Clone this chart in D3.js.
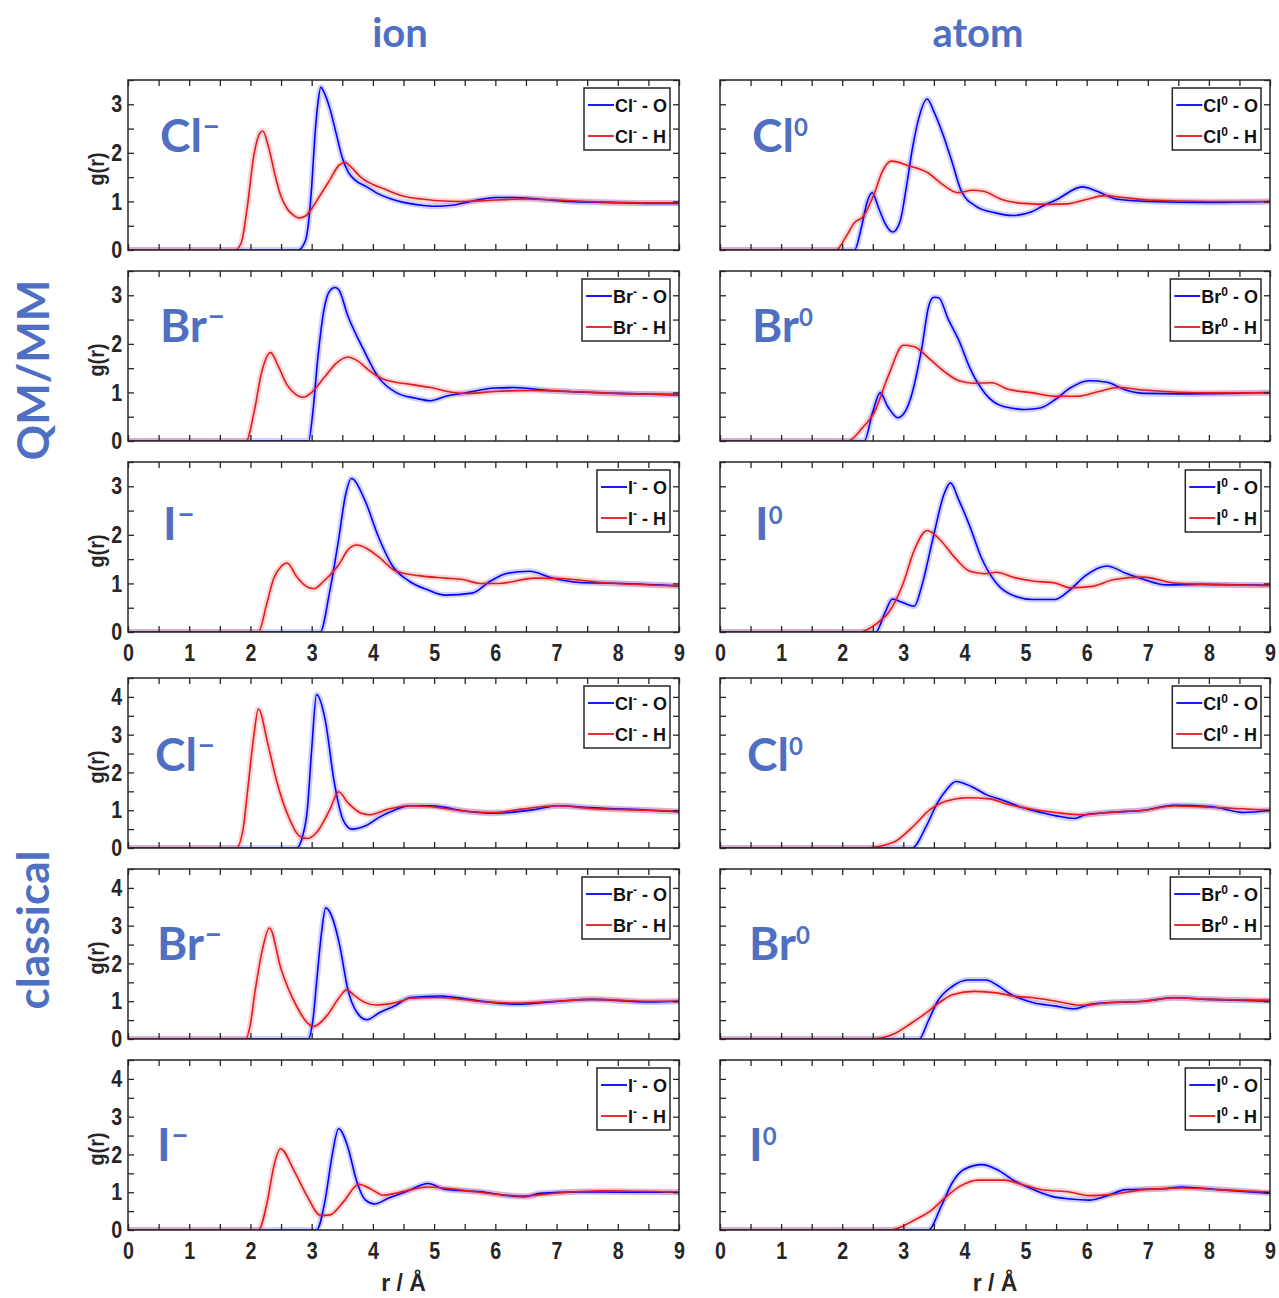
<!DOCTYPE html>
<html>
<head>
<meta charset="utf-8">
<script src="https://cdn.jsdelivr.net/npm/d3@7"></script>
<style>
  body { margin: 0; background: #fff; }
  .tick text { font-family: "Liberation Sans", Arial, sans-serif; font-weight: bold; fill: #262626; }
</style>
</head>
<body>
<svg id="chart" width="1279" height="1298"></svg>
<script>
// ---- data: g(r) as [r, g] pairs ----
var columns = ["ion", "atom"];
var groups = ["QM/MM", "classical"];
var elements = ["Cl", "Br", "I"];
var xTickLabels = [0, 1, 2, 3, 4, 5, 6, 7, 8, 9];
var yTickLabelsQM = [0, 1, 2, 3];
var yTickLabelsClassical = [0, 1, 2, 3, 4];
var yMaxQM = 3.5, yMaxClassical = 4.5;

// QM/MM, ion
var clIonQM_O = [[0,0],[2.78,0],[2.9,0.2],[3.0,1.3],[3.05,2.3],[3.1,3.0],[3.15,3.35],[3.2,3.25],[3.3,2.9],[3.4,2.4],[3.5,1.9],[3.6,1.6],[3.7,1.45],[3.9,1.3],[4.1,1.15],[4.3,1.05],[4.5,0.98],[4.8,0.92],[5.0,0.9],[5.3,0.92],[5.6,1.0],[6.0,1.08],[6.3,1.08],[6.7,1.05],[7.2,1.0],[7.8,0.98],[8.5,0.96],[9,0.96]];
var clIonQM_H = [[0,0],[1.75,0],[1.85,0.15],[1.95,0.9],[2.05,1.9],[2.15,2.4],[2.2,2.45],[2.3,2.1],[2.4,1.55],[2.5,1.1],[2.6,0.85],[2.7,0.72],[2.8,0.66],[2.9,0.7],[3.0,0.85],[3.1,1.05],[3.2,1.25],[3.3,1.45],[3.45,1.75],[3.55,1.8],[3.65,1.7],[3.8,1.5],[4.0,1.35],[4.2,1.25],[4.4,1.15],[4.6,1.08],[4.8,1.05],[5.0,1.02],[5.5,1.0],[6.0,1.03],[6.5,1.05],[7.0,1.03],[7.5,1.0],[8.0,0.98],[8.5,0.97],[9,0.97]];
var brIonQM_O = [[0,0],[2.95,0],[3.02,0.6],[3.1,1.7],[3.2,2.7],[3.3,3.1],[3.38,3.16],[3.44,3.12],[3.59,2.58],[3.84,1.9],[4.08,1.33],[4.39,0.99],[4.7,0.88],[4.94,0.83],[5.19,0.92],[5.5,0.99],[5.99,1.09],[6.3,1.1],[6.9,1.04],[8,0.98],[9,0.95]];
var brIonQM_H = [[0,0],[1.93,0],[2.06,0.6],[2.18,1.4],[2.33,1.82],[2.45,1.55],[2.6,1.15],[2.75,0.95],[2.86,0.9],[3.0,1.0],[3.2,1.3],[3.4,1.6],[3.59,1.73],[3.75,1.65],[3.96,1.43],[4.2,1.26],[4.64,1.16],[4.94,1.1],[5.31,1.0],[5.56,0.98],[5.99,1.02],[6.6,1.04],[7.2,1.02],[8,0.98],[9,0.96]];
var iIonQM_O = [[0,0],[3.14,0],[3.29,0.8],[3.44,1.9],[3.55,2.8],[3.65,3.16],[3.87,2.71],[4.09,1.96],[4.31,1.38],[4.6,1.04],[4.89,0.87],[5.18,0.76],[5.62,0.8],[5.91,1.04],[6.2,1.21],[6.56,1.25],[6.93,1.11],[7.37,1.02],[8.09,1.0],[9,0.95]];
var iIonQM_H = [[0,0],[2.13,0],[2.27,0.6],[2.38,1.1],[2.5,1.35],[2.6,1.42],[2.75,1.15],[2.9,0.95],[3.03,0.89],[3.2,1.05],[3.44,1.38],[3.6,1.7],[3.73,1.79],[3.9,1.72],[4.09,1.55],[4.38,1.25],[4.75,1.16],[5.18,1.11],[5.47,1.08],[5.76,1.0],[6.06,1.0],[6.64,1.11],[7.07,1.1],[7.73,1.02],[9,0.95]];

// QM/MM, atom
var clAtomQM_O = [[0,0],[2.2,0],[2.32,0.5],[2.41,1.0],[2.49,1.18],[2.6,0.85],[2.7,0.55],[2.83,0.37],[2.95,0.6],[3.05,1.3],[3.15,2.1],[3.25,2.7],[3.39,3.11],[3.5,2.85],[3.64,2.41],[3.8,1.8],[3.95,1.21],[4.19,0.9],[4.49,0.77],[4.79,0.71],[5.09,0.78],[5.27,0.9],[5.51,1.04],[5.93,1.3],[6.17,1.21],[6.48,1.05],[7,1.0],[8,0.98],[9,1.0]];
var clAtomQM_H = [[0,0],[1.9,0],[2.05,0.25],[2.2,0.56],[2.35,0.7],[2.53,1.18],[2.65,1.6],[2.8,1.83],[3.1,1.73],[3.4,1.59],[3.64,1.35],[3.89,1.18],[4.13,1.23],[4.31,1.21],[4.61,1.04],[4.97,0.96],[5.39,0.94],[5.69,0.95],[5.99,1.04],[6.3,1.12],[6.6,1.08],[7,1.03],[8,1.0],[9,1.0]];
var brAtomQM_O = [[0,0],[2.36,0],[2.5,0.6],[2.62,0.99],[2.75,0.7],[2.91,0.48],[3.0,0.55],[3.12,0.88],[3.3,1.9],[3.42,2.8],[3.5,2.96],[3.58,2.95],[3.73,2.52],[3.91,2.07],[4.09,1.5],[4.33,0.99],[4.64,0.71],[5.0,0.65],[5.24,0.68],[5.48,0.85],[5.73,1.09],[6.03,1.24],[6.33,1.21],[6.64,1.05],[6.94,0.98],[7.55,0.97],[9,1.0]];
var brAtomQM_H = [[0,0],[2.09,0],[2.33,0.27],[2.52,0.58],[2.76,1.36],[3.0,1.97],[3.18,1.94],[3.42,1.7],[3.67,1.43],[3.91,1.24],[4.15,1.19],[4.45,1.2],[4.7,1.07],[5.12,0.99],[5.48,0.92],[5.85,0.92],[6.2,1.02],[6.52,1.1],[6.94,1.05],[8,0.99],[9,0.99]];
var iAtomQM_O = [[0,0],[2.55,0],[2.7,0.4],[2.82,0.68],[3.0,0.6],[3.18,0.53],[3.3,0.94],[3.48,1.9],[3.67,2.85],[3.77,3.07],[3.91,2.71],[4.09,2.17],[4.27,1.55],[4.52,1.01],[4.82,0.74],[5.12,0.67],[5.48,0.67],[5.73,0.87],[5.97,1.15],[6.33,1.36],[6.64,1.21],[6.94,1.08],[7.3,0.97],[7.85,0.98],[9,0.96]];
var iAtomQM_H = [[0,0],[2.27,0],[2.58,0.19],[2.76,0.4],[3.0,1.01],[3.18,1.69],[3.39,2.09],[3.6,1.9],[3.85,1.52],[4.09,1.25],[4.33,1.2],[4.52,1.23],[4.82,1.12],[5.12,1.05],[5.48,1.01],[5.73,0.91],[6.09,0.94],[6.45,1.08],[6.94,1.13],[7.42,1.01],[8,0.98],[9,0.96]];

// classical, ion
var clIonCL_O = [[0,0],[2.75,0],[2.85,0.3],[2.93,1.03],[3.0,2.6],[3.08,4.06],[3.22,3.4],[3.37,1.73],[3.52,0.72],[3.66,0.5],[3.88,0.59],[4.1,0.81],[4.32,0.98],[4.61,1.12],[4.97,1.12],[5.49,0.98],[6.0,0.92],[6.65,1.02],[7.02,1.12],[7.53,1.07],[8.5,1.0],[9,0.96]];
var clIonCL_H = [[0,0],[1.77,0],[1.88,0.5],[1.95,1.47],[2.05,2.9],[2.13,3.68],[2.28,2.79],[2.42,1.82],[2.64,0.76],[2.79,0.33],[2.93,0.25],[3.08,0.41],[3.3,1.03],[3.44,1.49],[3.59,1.2],[3.81,0.92],[3.95,0.88],[4.25,1.03],[4.61,1.12],[4.9,1.1],[5.49,0.98],[6.0,0.94],[6.43,1.03],[7.02,1.12],[7.53,1.05],[8.5,1.0],[9,0.97]];
var brIonCL_O = [[0,0],[2.94,0],[3.02,0.5],[3.09,1.67],[3.16,2.8],[3.23,3.47],[3.34,3.2],[3.46,2.46],[3.59,1.32],[3.74,0.7],[3.9,0.51],[4.11,0.7],[4.36,0.88],[4.61,1.1],[5.1,1.14],[5.72,1.01],[6.34,0.92],[6.96,0.99],[7.58,1.05],[8.5,0.98],[9,1.0]];
var brIonCL_H = [[0,0],[1.92,0],[2.0,0.4],[2.07,1.2],[2.2,2.4],[2.31,2.94],[2.5,1.85],[2.75,0.88],[3.03,0.33],[3.25,0.62],[3.45,1.1],[3.57,1.3],[3.7,1.15],[3.87,0.97],[4.05,0.9],[4.48,1.01],[4.6,1.08],[5.1,1.1],[5.72,1.0],[6.34,0.95],[6.96,1.0],[7.58,1.05],[8.5,1.0],[9,1.0]];
var iIonCL_O = [[0,0],[3.08,0],[3.22,0.79],[3.33,1.93],[3.44,2.68],[3.59,2.2],[3.73,1.32],[3.88,0.79],[4.03,0.69],[4.25,0.84],[4.54,1.01],[4.9,1.23],[5.19,1.07],[5.78,1.01],[6.14,0.92],[6.5,0.88],[6.72,0.97],[7.37,1.01],[8.1,1.0],[9,1.0]];
var iIonCL_H = [[0,0],[2.13,0],[2.28,0.79],[2.38,1.67],[2.49,2.15],[2.71,1.58],[2.93,0.88],[3.15,0.38],[3.3,0.4],[3.52,0.75],[3.77,1.21],[3.95,1.1],[4.17,0.92],[4.39,0.98],[4.9,1.14],[5.49,1.05],[6.0,0.95],[6.43,0.9],[7.02,0.98],[7.75,1.04],[9,1.0]];

// classical, atom
var clAtomCL_O = [[0,0],[3.14,0],[3.38,0.59],[3.56,1.2],[3.71,1.55],[3.86,1.76],[4.11,1.63],[4.35,1.42],[4.65,1.25],[4.95,1.07],[5.25,0.94],[5.5,0.85],[5.8,0.78],[5.98,0.88],[6.34,0.94],[6.94,1.0],[7.43,1.13],[8.03,1.1],[8.57,0.94],[9,1.0]];
var clAtomCL_H = [[0,0],[2.36,0],[2.84,0.15],[3.14,0.54],[3.44,1.02],[3.68,1.23],[4.05,1.33],[4.41,1.3],[4.71,1.16],[5.13,1.02],[5.5,0.94],[5.92,0.88],[6.34,0.94],[6.94,1.0],[7.43,1.11],[8.03,1.08],[9,1.0]];
var brAtomCL_O = [[0,0],[3.26,0],[3.4,0.45],[3.56,1.0],[3.8,1.39],[4.05,1.56],[4.35,1.56],[4.53,1.43],[4.77,1.17],[5.13,0.96],[5.5,0.87],[5.8,0.8],[6.04,0.91],[6.34,0.96],[6.94,1.0],[7.43,1.09],[8,1.05],[9,1.0]];
var brAtomCL_H = [[0,0],[2.48,0],[2.84,0.13],[3.14,0.43],[3.38,0.7],[3.62,1.0],[3.8,1.17],[4.17,1.26],[4.53,1.22],[4.83,1.13],[5.13,1.09],[5.5,1.0],[5.92,0.89],[6.34,0.96],[6.94,1.0],[7.43,1.09],[8,1.05],[9,1.03]];
var iAtomCL_O = [[0,0],[3.41,0],[3.62,0.63],[3.8,1.25],[3.99,1.6],[4.29,1.73],[4.53,1.6],[4.83,1.29],[5.13,1.07],[5.43,0.89],[5.74,0.82],[6.04,0.79],[6.34,0.91],[6.64,1.07],[7.25,1.09],[7.55,1.14],[8.15,1.07],[9,0.97]];
var iAtomCL_H = [[0,0],[2.78,0],[3.2,0.28],[3.44,0.5],[3.68,0.85],[3.93,1.16],[4.23,1.32],[4.65,1.32],[4.95,1.2],[5.25,1.07],[5.74,1.0],[6.04,0.91],[6.34,0.93],[6.94,1.07],[7.55,1.11],[8.15,1.07],[9,1.0]];

// ---- layout ----
var colLeft = [128, 720], colRight = [679, 1270];
var titleX = [400, 978];
var rowTop = [80, 271, 462, 678, 869, 1060];
var rowH = 170;
var labelDrop = [72, 71, 78, 93, 91, 101];
var labelIndent = [32, 32, 35, 27, 29, 29];
var blue = "#0000ff", red = "#e3191c", accent = "#4f70c2", ink = "#262626";

var series = {
  "QM/MM": { ion: [[clIonQM_O, clIonQM_H], [brIonQM_O, brIonQM_H], [iIonQM_O, iIonQM_H]],
             atom: [[clAtomQM_O, clAtomQM_H], [brAtomQM_O, brAtomQM_H], [iAtomQM_O, iAtomQM_H]] },
  "classical": { ion: [[clIonCL_O, clIonCL_H], [brIonCL_O, brIonCL_H], [iIonCL_O, iIonCL_H]],
                 atom: [[clAtomCL_O, clAtomCL_H], [brAtomCL_O, brAtomCL_H], [iAtomCL_O, iAtomCL_H]] }
};

var svg = d3.select("#chart");
var halfSteps = d3.range(0, 9.001, 0.5);

// column titles
columns.forEach(function (c, ci) {
  svg.append("text")
    .attr("x", titleX[ci])
    .attr("y", 47)
    .attr("text-anchor", "middle")
    .style("font-family", "Lato, 'Open Sans', sans-serif")
    .style("font-weight", "bold")
    .style("font-size", "40px")
    .style("fill", accent)
    .text(c);
});

// group labels on the left
groups.forEach(function (g, gi) {
  svg.append("text")
    .attr("transform", "translate(49," + (gi === 0 ? 370 : 930) + ") rotate(-90)")
    .attr("text-anchor", "middle")
    .style("font-family", "Lato, 'Open Sans', sans-serif")
    .style("font-weight", "bold")
    .style("font-size", "44px")
    .style("fill", accent)
    .text(g);
});

var line = d3.line().curve(d3.curveMonotoneX);

groups.forEach(function (g, gi) {
  var yMax = gi === 0 ? yMaxQM : yMaxClassical;
  var yLabels = gi === 0 ? yTickLabelsQM : yTickLabelsClassical;
  var ySteps = d3.range(0, yMax + 0.001, 0.5);

  elements.forEach(function (el, ei) {
    var row = gi * 3 + ei;
    var top = rowTop[row], bottom = top + rowH;
    var lastRow = ei === 2;

    columns.forEach(function (c, ci) {
      var x = d3.scaleLinear().domain([0, 9]).range([colLeft[ci], colRight[ci]]);
      var y = d3.scaleLinear().domain([0, yMax]).range([bottom, top]);
      var p = svg.append("g");

      var clipId = "clip" + row + "_" + ci;
      p.append("clipPath").attr("id", clipId).append("rect")
        .attr("x", colLeft[ci]).attr("y", top)
        .attr("width", colRight[ci] - colLeft[ci]).attr("height", rowH);

      // curves (O blue, H red) with a pale band behind
      var pair = series[g][c][ei];
      var curves = p.append("g").attr("clip-path", "url(#" + clipId + ")");
      [[pair[0], blue], [pair[1], red]].forEach(function (s) {
        var pts = s[0].map(function (d) { return [x(d[0]), y(d[1])]; });
        curves.append("path").attr("d", line(pts))
          .attr("fill", "none").attr("stroke", s[1])
          .attr("stroke-width", 6).attr("stroke-opacity", 0.18);
      });
      [[pair[0], blue], [pair[1], red]].forEach(function (s) {
        var pts = s[0].map(function (d) { return [x(d[0]), y(d[1])]; });
        curves.append("path").attr("d", line(pts))
          .attr("fill", "none").attr("stroke", s[1])
          .attr("stroke-width", 1.6);
      });

      // axes, ticks inward on all four sides
      var fmtX = function (d) { return lastRow && xTickLabels.indexOf(d) >= 0 ? d : ""; };
      var fmtY = function (d) { return ci === 0 && yLabels.indexOf(d) >= 0 ? d : ""; };
      var axB = p.append("g").attr("transform", "translate(0," + bottom + ")")
        .call(d3.axisBottom(x).tickValues(halfSteps).tickSize(-6).tickPadding(12).tickFormat(fmtX));
      var axT = p.append("g").attr("transform", "translate(0," + top + ")")
        .call(d3.axisTop(x).tickValues(halfSteps).tickSize(-6).tickFormat(""));
      var axL = p.append("g").attr("transform", "translate(" + colLeft[ci] + ",0)")
        .call(d3.axisLeft(y).tickValues(ySteps).tickSize(-6).tickPadding(7).tickFormat(fmtY));
      var axR = p.append("g").attr("transform", "translate(" + colRight[ci] + ",0)")
        .call(d3.axisRight(y).tickValues(ySteps).tickSize(-6).tickFormat(""));
      [axB, axT, axL, axR].forEach(function (a) {
        a.select(".domain").remove();
        a.selectAll(".tick line").attr("stroke", ink).attr("stroke-width", 1.3);
        a.selectAll(".tick text").style("font-size", "24px").attr("transform", "scale(0.82,1)");
      });
      p.append("rect")
        .attr("x", colLeft[ci]).attr("y", top)
        .attr("width", colRight[ci] - colLeft[ci]).attr("height", rowH)
        .attr("fill", "none").attr("stroke", ink).attr("stroke-width", 1.5);

      if (ci === 0) {
        p.append("text")
          .attr("transform", "translate(104," + (top + rowH / 2 + 4) + ") rotate(-90) scale(0.9,1)")
          .attr("text-anchor", "middle")
          .style("font-family", "'Liberation Sans', Arial, sans-serif")
          .style("font-weight", "bold").style("font-size", "22px").style("fill", ink)
          .text("g(r)");
      }
      if (gi === 1 && lastRow) {
        p.append("text")
          .attr("x", (colLeft[ci] + colRight[ci]) / 2).attr("y", 1291)
          .attr("text-anchor", "middle")
          .style("font-family", "'Liberation Sans', Arial, sans-serif")
          .style("font-weight", "bold").style("font-size", "23px").style("fill", ink)
          .text("r / Å");
      }

      // species label inside the panel
      var sup = ci === 0 ? "\u2013" : "0";
      var lab = p.append("text")
        .attr("x", colLeft[ci] + labelIndent[row]).attr("y", top + labelDrop[row])
        .style("font-family", "Lato, 'Open Sans', sans-serif")
        .style("font-weight", "bold").style("font-size", "46px").style("fill", accent)
        .text(el);
      lab.append("tspan").attr("dy", ci === 0 ? -16 : -16)
        .style("font-size", ci === 0 ? "32px" : "24px").text(sup);

      // legend
      var lg = p.append("g");
      var box = lg.append("rect").attr("fill", "#fff").attr("stroke", ink).attr("stroke-width", 1.5);
      var entries = [["O", blue], ["H", red]];
      var widest = 0;
      entries.forEach(function (e, k) {
        var t = lg.append("text").attr("x", 31).attr("y", 24 + k * 31)
          .style("font-family", "'Liberation Sans', Arial, sans-serif")
          .style("font-weight", "bold").style("font-size", "18px").style("fill", "#111");
        t.append("tspan").text(el);
        t.append("tspan").attr("dy", -7).style("font-size", "12px").text(ci === 0 ? "-" : "0");
        t.append("tspan").attr("dy", 7).text(" - " + e[0]);
        widest = Math.max(widest, t.node().getComputedTextLength());
        lg.append("line").attr("x1", 4).attr("x2", 30)
          .attr("y1", 17 + k * 31).attr("y2", 17 + k * 31)
          .attr("stroke", e[1]).attr("stroke-width", 1.8);
      });
      var bw = 31 + widest + 3;
      box.attr("x", 0).attr("y", 0).attr("width", bw).attr("height", 62);
      lg.attr("transform", "translate(" + (colRight[ci] - 9 - bw) + "," + (top + 8) + ")");
    });
  });
});
</script>
</body>
</html>
